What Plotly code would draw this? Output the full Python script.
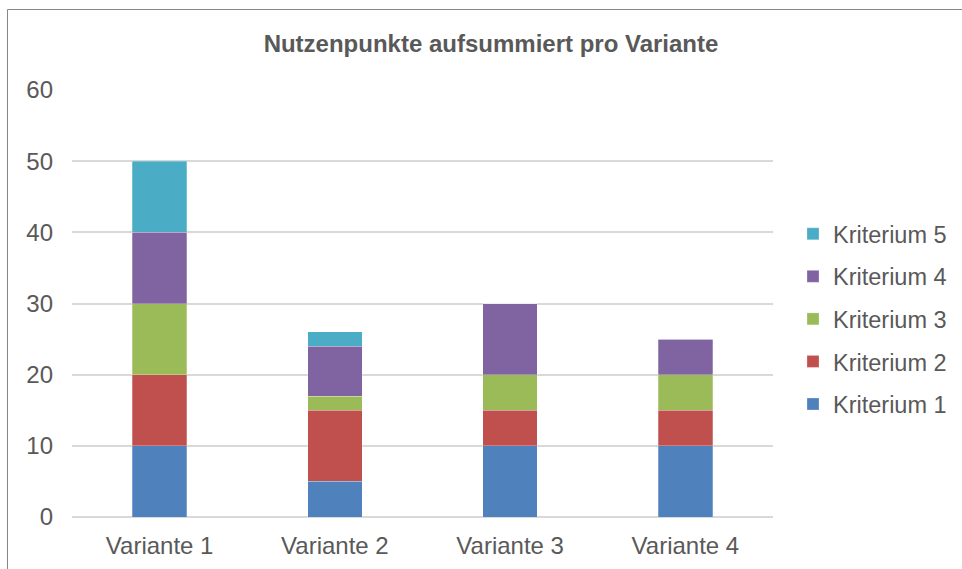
import plotly.graph_objects as go

categories = ["Variante 1", "Variante 2", "Variante 3", "Variante 4"]
series_names = ["Kriterium 1", "Kriterium 2", "Kriterium 3", "Kriterium 4", "Kriterium 5"]
kriterium_1 = [10, 5, 10, 10]
kriterium_2 = [10, 10, 5, 5]
kriterium_3 = [10, 2, 5, 5]
kriterium_4 = [10, 7, 10, 5]
kriterium_5 = [10, 2, 0, 0]
series_values = [kriterium_1, kriterium_2, kriterium_3, kriterium_4, kriterium_5]
colors = ["#4F81BD", "#C0504D", "#9BBB59", "#8064A2", "#4BACC6"]
y_ticks = [0, 10, 20, 30, 40, 50, 60]

fig = go.Figure()
n = len(series_names)
for i, (name, vals, col) in enumerate(zip(series_names, series_values, colors)):
    fig.add_trace(go.Bar(
        x=categories, y=vals, name=name, legendgroup=name, legendrank=1000 + (n - i),
        marker=dict(color=col, line=dict(color="rgba(255,255,255,0.5)", width=0.5)),
    ))

W, H = 962, 569
L, R, T, B = 72, 189, 90, 52
pw, ph = W - L - R, H - T - B

def px(x):
    return (x - L) / pw

def py(y):
    return (H - B - y) / ph

fig.update_layout(
    width=W, height=H,
    margin=dict(l=L, r=R, t=T, b=B, autoexpand=False),
    barmode="stack",
    bargap=0.69,
    plot_bgcolor="white",
    paper_bgcolor="white",
    font=dict(family="Liberation Sans, Arial, sans-serif", color="#595959", size=24),
    title=dict(text="<b>Nutzenpunkte aufsummiert pro Variante</b>",
               x=491 / W, xanchor="center", y=1 - 44 / H, yanchor="middle",
               font=dict(size=24, color="#595959")),
    xaxis=dict(showgrid=False, showline=False, ticks="", tickfont=dict(size=24),
               ticklabelstandoff=12),
    yaxis=dict(range=[0, 60], tickvals=y_ticks, showgrid=True, gridcolor="#D9D9D9",
               gridwidth=1.5, zeroline=True, zerolinecolor="#D9D9D9", zerolinewidth=1.5,
               showline=False, ticks="", ticklen=0, tickfont=dict(size=24),
               ticklabelstandoff=18),
    legend=dict(traceorder="grouped", x=px(793), xanchor="left", y=py(319),
                yanchor="middle",
                font=dict(size=23.5, color="#595959"), tracegroupgap=9,
                itemwidth=30, bgcolor="rgba(0,0,0,0)"),
    showlegend=True,
)

fig.add_shape(type="line", xref="paper", yref="paper",
              x0=px(7.5), x1=px(7.5), y0=py(9.5), y1=py(575),
              line=dict(color="#868686", width=1))
fig.add_shape(type="line", xref="paper", yref="paper",
              x0=px(7.5), x1=px(970), y0=py(9.5), y1=py(9.5),
              line=dict(color="#868686", width=1))

fig.write_html("out.html", config={"displayModeBar": False},
               post_script="document.body.style.margin='0';")
